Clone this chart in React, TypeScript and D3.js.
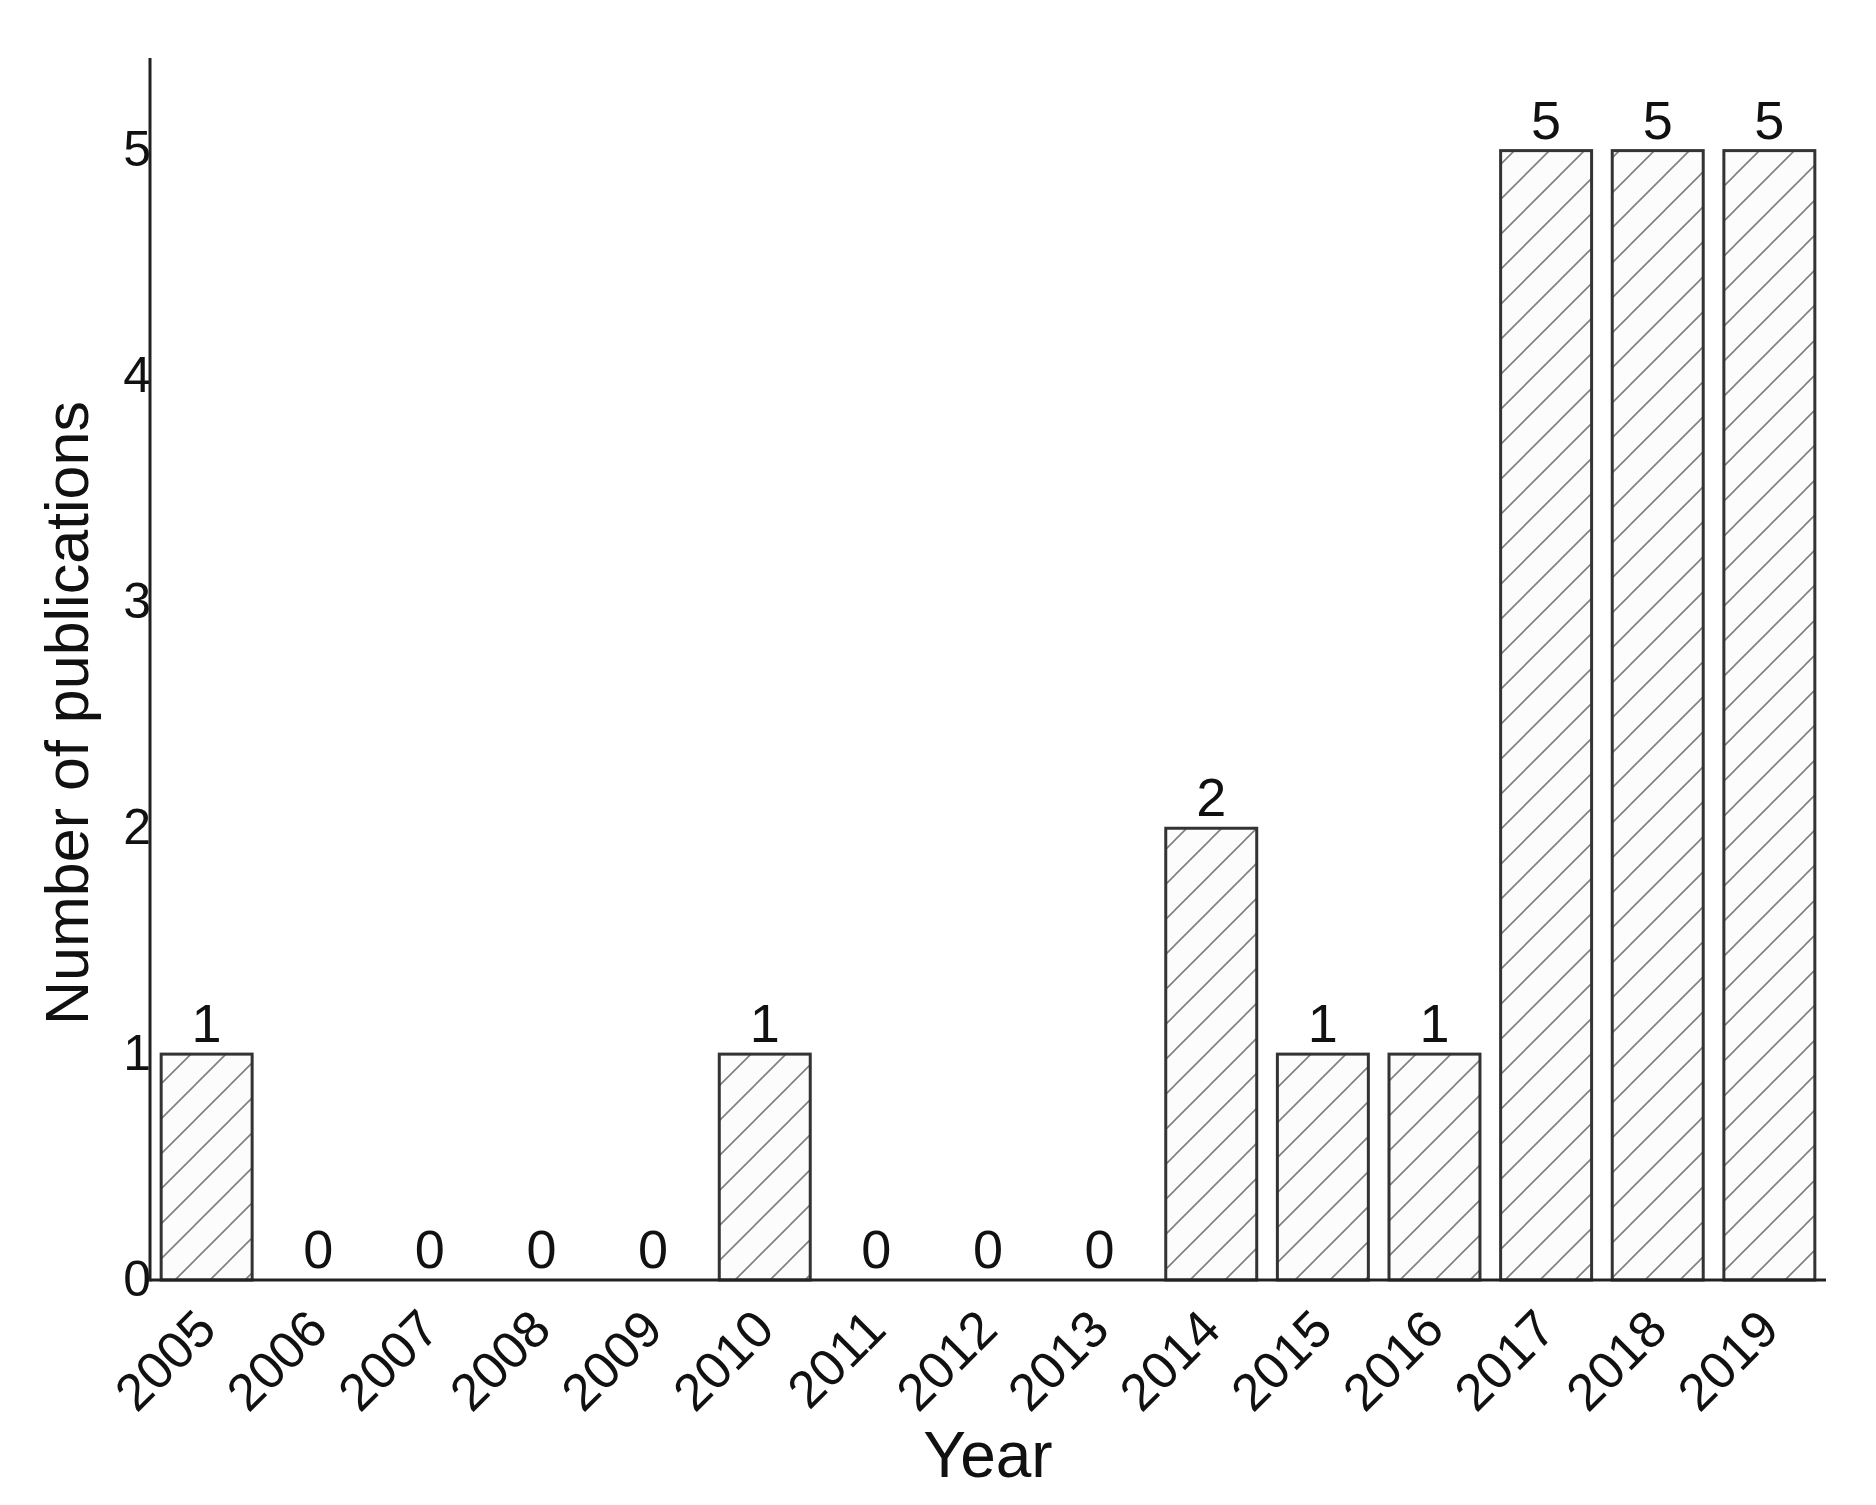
import React, { useEffect, useRef } from "react";
import { select, scaleBand, scaleLinear, axisLeft, axisBottom, format } from "d3";

const width = 1876;
const height = 1505;
const margin = { top: 58, right: 50, bottom: 225, left: 150 };

const years = [
  "2005", "2006", "2007", "2008", "2009", "2010", "2011", "2012",
  "2013", "2014", "2015", "2016", "2017", "2018", "2019",
];
const publications = [1, 0, 0, 0, 0, 1, 0, 0, 0, 2, 1, 1, 5, 5, 5];
const yTicks = [0, 1, 2, 3, 4, 5];
const yTop = 5.41;

const font = "'Liberation Sans', Arial, Helvetica, sans-serif";

const App = () => {
  const ref = useRef<SVGSVGElement>(null);

  useEffect(() => {
    const svg = select(ref.current);
    svg.selectAll("*").remove();

    const x = scaleBand()
      .domain(years)
      .range([margin.left, width - margin.right])
      .paddingInner(0.185)
      .paddingOuter(0.1);

    const y = scaleLinear()
      .domain([0, yTop])
      .range([height - margin.bottom, margin.top]);

    // diagonal hatch
    const defs = svg.append("defs");
    const pat = defs
      .append("pattern")
      .attr("id", "hatch")
      .attr("patternUnits", "userSpaceOnUse")
      .attr("x", 20)
      .attr("width", 35)
      .attr("height", 35);
    pat.append("rect").attr("width", 35).attr("height", 35).attr("fill", "#fcfcfc");
    pat
      .append("path")
      .attr("d", "M0,35 L35,0 M-8.75,8.75 L8.75,-8.75 M26.25,43.75 L43.75,26.25")
      .attr("stroke", "#808080")
      .attr("stroke-width", 1.6);

    svg
      .append("g")
      .selectAll("rect")
      .data(years)
      .join("rect")
      .attr("x", (d) => x(d))
      .attr("y", (d, i) => y(publications[i]))
      .attr("width", x.bandwidth())
      .attr("height", (d, i) => y(0) - y(publications[i]))
      .attr("fill", "url(#hatch)")
      .attr("stroke", "#333")
      .attr("stroke-width", 3)
      .style("display", (d, i) => (publications[i] > 0 ? null : "none"));

    // value labels
    svg
      .append("g")
      .selectAll("text")
      .data(years)
      .join("text")
      .attr("x", (d) => x(d) + x.bandwidth() / 2)
      .attr("y", (d, i) => y(publications[i]) - 12)
      .attr("text-anchor", "middle")
      .attr("font-family", font)
      .attr("font-size", 54)
      .attr("fill", "#111")
      .text((d, i) => publications[i]);

    const xAxis = (g) =>
      g
        .attr("transform", `translate(0,${y(0)})`)
        .call(axisBottom(x).tickSize(0).tickSizeOuter(0))
        .call((g) => g.select(".domain").remove())
        .call((g) =>
          g
            .selectAll(".tick text")
            .attr("font-family", font)
            .attr("font-size", 52)
            .attr("fill", "#111")
            .attr("text-anchor", "end")
            .attr("y", 0)
            .attr("dy", 0)
            .attr("transform", "translate(12,52) rotate(-45)")
        );

    const yAxis = (g) =>
      g
        .attr("transform", `translate(${margin.left},0)`)
        .call(
          axisLeft(y).tickValues(yTicks).tickFormat(format("d")).tickSize(0).tickPadding(-1)
        )
        .call((g) => g.select(".domain").remove())
        .call((g) =>
          g
            .selectAll(".tick text")
            .attr("font-family", font)
            .attr("font-size", 50)
            .attr("fill", "#111")
            .attr("dy", "0.3em")
        );

    svg.append("g").call(xAxis);
    svg.append("g").call(yAxis);

    // axis lines
    svg
      .append("line")
      .attr("x1", margin.left)
      .attr("x2", margin.left)
      .attr("y1", y(yTop))
      .attr("y2", y(0) + 1.5)
      .attr("stroke", "#222")
      .attr("stroke-width", 3);
    svg
      .append("line")
      .attr("x1", margin.left)
      .attr("x2", width - margin.right)
      .attr("y1", y(0))
      .attr("y2", y(0))
      .attr("stroke", "#222")
      .attr("stroke-width", 3);

    svg
      .append("text")
      .attr("x", (margin.left + width - margin.right) / 2)
      .attr("y", 1477)
      .attr("text-anchor", "middle")
      .attr("font-family", font)
      .attr("font-size", 64)
      .attr("fill", "#111")
      .text("Year");

    svg
      .append("text")
      .attr("transform", "translate(88,713) rotate(-90)")
      .attr("text-anchor", "middle")
      .attr("font-family", font)
      .attr("font-size", 61)
      .attr("fill", "#111")
      .text("Number of publications");
  }, []);

  return (
    <svg
      ref={ref}
      width={width}
      height={height}
      style={{ position: "absolute", left: 0, top: 0, background: "#fff" }}
    />
  );
};

export default App;
